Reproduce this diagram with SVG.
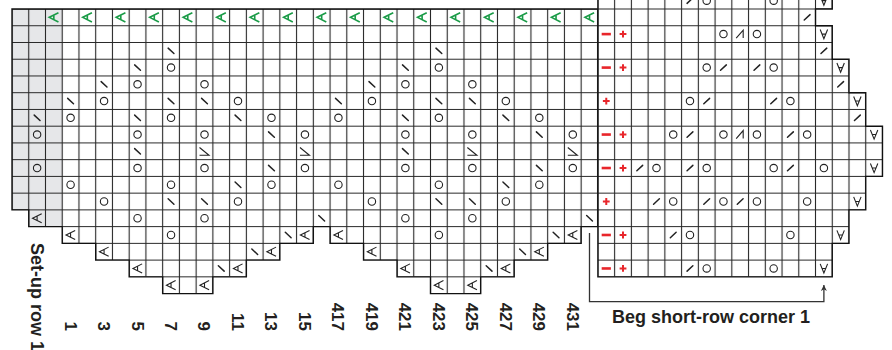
<svg xmlns="http://www.w3.org/2000/svg" xmlns:xlink="http://www.w3.org/1999/xlink" width="892" height="350" viewBox="0 0 892 350">
<style>
.bg{fill:#fff}
.gray{fill:#e6e7e9}
.gridfill{fill:url(#grid)}
.outline{fill:none;stroke:#111;stroke-width:1.4}
.ink{fill:none;stroke:#222;stroke-width:1.1}
.ink2{fill:none;stroke:#222;stroke-width:1.5;stroke-linecap:round}
.green{fill:none;stroke:#1a9b47;stroke-width:1.6}
.redm{fill:#e8262b}
.redp{fill:none;stroke:#e8262b;stroke-width:2}
.lbl{font-family:"Liberation Sans",Arial,sans-serif;font-weight:bold;fill:#231f20}
.num{font-size:17px;text-anchor:end}
.conn{fill:none;stroke:#333;stroke-width:1.3}
</style>
<defs>
<pattern id="grid" patternUnits="userSpaceOnUse" x="3.63" y="0.63" width="16.74" height="16.74">
<path d="M8.37 0V16.74M0 8.37H16.74" stroke="#262626" stroke-width="1.1" fill="none"/>
</pattern>
<circle id="yo" r="3.7"/>
<path id="bs" d="M-2.9-2.7L2.9 2.7"/>
<path id="fs" d="M-2.9 2.7L2.9-2.7"/>
<path id="bsu" d="M-5-3.8L4.5 4H-5"/>
<path id="k3" d="M-4 4L3-4V4"/>
<path id="inv" d="M-3.7-4.6L0 4.6L3.7-4.6M-1.9 0H1.9"/>
<path id="la" d="M4.6-4.6L-4.6 0L4.6 4.6M0-2.3V2.3"/>
<rect id="mn" x="-4.6" y="-1.3" width="9.2" height="2.6"/>
<path id="pl" d="M-3.4 0H3.4M0-3.4V3.4"/>
<marker id="arr" viewBox="0 0 10 10" refX="10" refY="5" markerWidth="9" markerHeight="6" markerUnits="userSpaceOnUse" orient="auto">
<path d="M0 0L10 5L0 10L3 5Z" fill="#333"/>
</marker>
</defs>

<g id="left-chart">
<path class="bg" d="M12 9H597.9V226.62H581.16V243.36H547.68V260.1H514.2V276.84H480.72V293.58H430.5V276.84H397.02V260.1H363.54V243.36H330.06V226.62H313.32V243.36H279.84V260.1H246.36V276.84H212.88V293.58H162.66V276.84H129.18V260.1H95.7V243.36H62.22V226.62H28.74V209.88H12Z"/>
<rect class="gray" x="12" y="9" width="50.22" height="200.88"/>
<rect class="gray" x="28.74" y="209.88" width="33.48" height="16.74"/>
<path class="gridfill" d="M12 9H597.9V226.62H581.16V243.36H547.68V260.1H514.2V276.84H480.72V293.58H430.5V276.84H397.02V260.1H363.54V243.36H330.06V226.62H313.32V243.36H279.84V260.1H246.36V276.84H212.88V293.58H162.66V276.84H129.18V260.1H95.7V243.36H62.22V226.62H28.74V209.88H12Z"/>
<path class="outline" d="M12 9H597.9V226.62H581.16V243.36H547.68V260.1H514.2V276.84H480.72V293.58H430.5V276.84H397.02V260.1H363.54V243.36H330.06V226.62H313.32V243.36H279.84V260.1H246.36V276.84H212.88V293.58H162.66V276.84H129.18V260.1H95.7V243.36H62.22V226.62H28.74V209.88H12Z"/>

<g class="green">
<use href="#la" x="53.85" y="17.37"/><use href="#la" x="87.33" y="17.37"/><use href="#la" x="120.81" y="17.37"/><use href="#la" x="154.29" y="17.37"/><use href="#la" x="187.77" y="17.37"/><use href="#la" x="221.25" y="17.37"/><use href="#la" x="254.73" y="17.37"/><use href="#la" x="288.21" y="17.37"/><use href="#la" x="321.69" y="17.37"/><use href="#la" x="355.17" y="17.37"/><use href="#la" x="388.65" y="17.37"/><use href="#la" x="422.13" y="17.37"/><use href="#la" x="455.61" y="17.37"/><use href="#la" x="489.09" y="17.37"/><use href="#la" x="522.57" y="17.37"/><use href="#la" x="556.05" y="17.37"/><use href="#la" x="589.53" y="17.37"/>
</g>

<g class="ink2">
<use href="#bs" x="171.03" y="50.85"/><use href="#bs" x="438.87" y="50.85"/>
<use href="#bs" x="137.55" y="67.59"/><use href="#bs" x="405.39" y="67.59"/>
<use href="#bs" x="104.07" y="84.33"/><use href="#bs" x="371.91" y="84.33"/>
<use href="#bs" x="70.59" y="101.07"/><use href="#bs" x="171.03" y="101.07"/><use href="#bs" x="204.51" y="101.07"/><use href="#bs" x="338.43" y="101.07"/><use href="#bs" x="438.87" y="101.07"/><use href="#bs" x="472.35" y="101.07"/>
<use href="#bs" x="37.11" y="117.81"/><use href="#bs" x="137.55" y="117.81"/><use href="#bs" x="237.99" y="117.81"/><use href="#bs" x="405.39" y="117.81"/><use href="#bs" x="505.83" y="117.81"/>
<use href="#bs" x="271.47" y="134.55"/><use href="#bs" x="539.31" y="134.55"/>
<use href="#bs" x="137.55" y="151.29"/><use href="#bs" x="405.39" y="151.29"/>
<use href="#bs" x="271.47" y="168.03"/><use href="#bs" x="539.31" y="168.03"/>
<use href="#bs" x="237.99" y="184.77"/><use href="#bs" x="505.83" y="184.77"/>
<use href="#bs" x="171.03" y="201.51"/><use href="#bs" x="204.51" y="201.51"/><use href="#bs" x="438.87" y="201.51"/><use href="#bs" x="472.35" y="201.51"/>
<use href="#bs" x="321.69" y="218.25"/><use href="#bs" x="589.53" y="218.25"/>
<use href="#bs" x="288.21" y="234.99"/><use href="#bs" x="556.05" y="234.99"/>
<use href="#bs" x="254.73" y="251.73"/><use href="#bs" x="522.57" y="251.73"/>
<use href="#bs" x="221.25" y="268.47"/><use href="#bs" x="489.09" y="268.47"/>
</g>

<g class="ink">
<use href="#yo" x="171.03" y="67.59"/><use href="#yo" x="438.87" y="67.59"/>
<use href="#yo" x="137.55" y="84.33"/><use href="#yo" x="204.51" y="84.33"/><use href="#yo" x="405.39" y="84.33"/><use href="#yo" x="472.35" y="84.33"/>
<use href="#yo" x="104.07" y="101.07"/><use href="#yo" x="237.99" y="101.07"/><use href="#yo" x="371.91" y="101.07"/><use href="#yo" x="505.83" y="101.07"/>
<use href="#yo" x="70.59" y="117.81"/><use href="#yo" x="171.03" y="117.81"/><use href="#yo" x="271.47" y="117.81"/><use href="#yo" x="338.43" y="117.81"/><use href="#yo" x="438.87" y="117.81"/><use href="#yo" x="539.31" y="117.81"/>
<use href="#yo" x="37.11" y="134.55"/><use href="#yo" x="137.55" y="134.55"/><use href="#yo" x="204.51" y="134.55"/><use href="#yo" x="304.95" y="134.55"/><use href="#yo" x="405.39" y="134.55"/><use href="#yo" x="472.35" y="134.55"/><use href="#yo" x="572.79" y="134.55"/>
<use href="#yo" x="37.11" y="168.03"/><use href="#yo" x="137.55" y="168.03"/><use href="#yo" x="204.51" y="168.03"/><use href="#yo" x="304.95" y="168.03"/><use href="#yo" x="405.39" y="168.03"/><use href="#yo" x="472.35" y="168.03"/><use href="#yo" x="572.79" y="168.03"/>
<use href="#yo" x="70.59" y="184.77"/><use href="#yo" x="171.03" y="184.77"/><use href="#yo" x="271.47" y="184.77"/><use href="#yo" x="338.43" y="184.77"/><use href="#yo" x="438.87" y="184.77"/><use href="#yo" x="539.31" y="184.77"/>
<use href="#yo" x="104.07" y="201.51"/><use href="#yo" x="237.99" y="201.51"/><use href="#yo" x="371.91" y="201.51"/><use href="#yo" x="505.83" y="201.51"/>
<use href="#yo" x="137.55" y="218.25"/><use href="#yo" x="204.51" y="218.25"/><use href="#yo" x="405.39" y="218.25"/><use href="#yo" x="472.35" y="218.25"/>
<use href="#yo" x="171.03" y="234.99"/><use href="#yo" x="438.87" y="234.99"/>
<use href="#bsu" x="204.51" y="151.29"/><use href="#bsu" x="304.95" y="151.29"/><use href="#bsu" x="472.35" y="151.29"/><use href="#bsu" x="572.79" y="151.29"/>
<use href="#la" x="37.11" y="218.25"/>
<use href="#la" x="70.59" y="234.99"/><use href="#la" x="304.95" y="234.99"/><use href="#la" x="338.43" y="234.99"/><use href="#la" x="572.79" y="234.99"/>
<use href="#la" x="104.07" y="251.73"/><use href="#la" x="271.47" y="251.73"/><use href="#la" x="371.91" y="251.73"/><use href="#la" x="539.31" y="251.73"/>
<use href="#la" x="137.55" y="268.47"/><use href="#la" x="237.99" y="268.47"/><use href="#la" x="405.39" y="268.47"/><use href="#la" x="505.83" y="268.47"/>
<use href="#la" x="171.03" y="285.21"/><use href="#la" x="204.51" y="285.21"/><use href="#la" x="438.87" y="285.21"/><use href="#la" x="472.35" y="285.21"/>
</g>
</g>

<g id="right-chart">
<path class="bg" d="M597.9 -7.74H832.26V9H815.52V25.74H832.26V59.22H849V92.7H865.74V126.18H882.48V176.4H865.74V209.88H849V243.36H832.26V276.84H597.9Z"/>
<path class="gridfill" d="M597.9 -7.74H832.26V9H815.52V25.74H832.26V59.22H849V92.7H865.74V126.18H882.48V176.4H865.74V209.88H849V243.36H832.26V276.84H597.9Z"/>
<path class="outline" d="M597.9 -7.74H832.26V9H815.52V25.74H832.26V59.22H849V92.7H865.74V126.18H882.48V176.4H865.74V209.88H849V243.36H832.26V276.84H597.9Z"/>

<g class="ink2">
<use href="#fs" x="689.97" y="0.63"/>
<use href="#fs" x="807.15" y="17.37"/>
<use href="#fs" x="823.89" y="50.85"/>
<use href="#fs" x="723.45" y="67.59"/><use href="#fs" x="756.93" y="67.59"/>
<use href="#fs" x="840.63" y="84.33"/>
<use href="#fs" x="706.71" y="101.07"/><use href="#fs" x="773.67" y="101.07"/>
<use href="#fs" x="857.37" y="117.81"/>
<use href="#fs" x="689.97" y="134.55"/><use href="#fs" x="790.41" y="134.55"/>
<use href="#fs" x="639.75" y="168.03"/><use href="#fs" x="689.97" y="168.03"/><use href="#fs" x="790.41" y="168.03"/>
<use href="#fs" x="656.49" y="201.51"/><use href="#fs" x="706.71" y="201.51"/><use href="#fs" x="740.19" y="201.51"/>
<use href="#fs" x="673.23" y="234.99"/>
<use href="#fs" x="689.97" y="268.47"/>
</g>

<g class="ink">
<use href="#yo" x="706.71" y="0.63"/><use href="#yo" x="773.67" y="0.63"/>
<use href="#yo" x="723.45" y="34.11"/><use href="#yo" x="756.93" y="34.11"/>
<use href="#yo" x="706.71" y="67.59"/><use href="#yo" x="773.67" y="67.59"/>
<use href="#yo" x="689.97" y="101.07"/><use href="#yo" x="790.41" y="101.07"/>
<use href="#yo" x="673.23" y="134.55"/><use href="#yo" x="723.45" y="134.55"/><use href="#yo" x="756.93" y="134.55"/><use href="#yo" x="807.15" y="134.55"/>
<use href="#yo" x="656.49" y="168.03"/><use href="#yo" x="706.71" y="168.03"/><use href="#yo" x="773.67" y="168.03"/><use href="#yo" x="823.89" y="168.03"/>
<use href="#yo" x="673.23" y="201.51"/><use href="#yo" x="723.45" y="201.51"/><use href="#yo" x="756.93" y="201.51"/><use href="#yo" x="807.15" y="201.51"/>
<use href="#yo" x="689.97" y="234.99"/><use href="#yo" x="790.41" y="234.99"/>
<use href="#yo" x="706.71" y="268.47"/><use href="#yo" x="773.67" y="268.47"/>
<use href="#k3" x="740.19" y="34.11"/><use href="#k3" x="740.19" y="134.55"/>
<use href="#inv" x="823.89" y="0.63"/><use href="#inv" x="823.89" y="34.11"/><use href="#inv" x="840.63" y="67.59"/><use href="#inv" x="857.37" y="101.07"/><use href="#inv" x="874.11" y="134.55"/><use href="#inv" x="874.11" y="168.03"/><use href="#inv" x="857.37" y="201.51"/><use href="#inv" x="840.63" y="234.99"/><use href="#inv" x="823.89" y="268.47"/>
</g>

<g class="redm">
<use href="#mn" x="606.27" y="34.11"/><use href="#mn" x="606.27" y="67.59"/><use href="#mn" x="606.27" y="134.55"/><use href="#mn" x="606.27" y="168.03"/><use href="#mn" x="606.27" y="234.99"/><use href="#mn" x="606.27" y="268.47"/>
</g>
<g class="redp">
<use href="#pl" x="623.01" y="34.11"/><use href="#pl" x="623.01" y="67.59"/><use href="#pl" x="606.27" y="101.07"/><use href="#pl" x="623.01" y="134.55"/><use href="#pl" x="623.01" y="168.03"/><use href="#pl" x="606.27" y="201.51"/><use href="#pl" x="623.01" y="234.99"/><use href="#pl" x="623.01" y="268.47"/>
</g>
</g>

<g id="connectors">
<path class="conn" d="M589.5 233V301.7H823.89V285" marker-end="url(#arr)"/>
</g>

<g id="labels">
<text class="lbl" x="612" y="323" font-size="18">Beg short-row corner 1</text>
<text class="lbl" font-size="18" transform="translate(30.5 243) rotate(90)">Set-up row 1</text>
<g class="lbl num">
<text transform="translate(64.5 331) rotate(90)">1</text>
<text transform="translate(98 331) rotate(90)">3</text>
<text transform="translate(131.5 331) rotate(90)">5</text>
<text transform="translate(164.9 331) rotate(90)">7</text>
<text transform="translate(198.4 331) rotate(90)">9</text>
<text transform="translate(231.9 331) rotate(90)">11</text>
<text transform="translate(265.4 331) rotate(90)">13</text>
<text transform="translate(298.9 331) rotate(90)">15</text>
<text transform="translate(332.3 331) rotate(90)">417</text>
<text transform="translate(365.8 331) rotate(90)">419</text>
<text transform="translate(399.3 331) rotate(90)">421</text>
<text transform="translate(432.8 331) rotate(90)">423</text>
<text transform="translate(466.3 331) rotate(90)">425</text>
<text transform="translate(499.7 331) rotate(90)">427</text>
<text transform="translate(533.2 331) rotate(90)">429</text>
<text transform="translate(566.7 331) rotate(90)">431</text>
</g>
</g>
</svg>
